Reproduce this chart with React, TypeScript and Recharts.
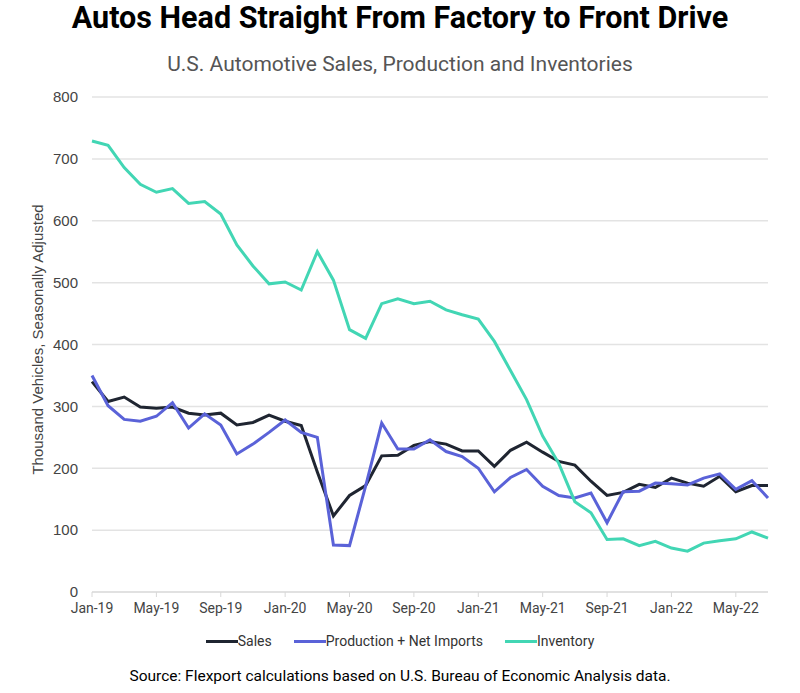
import { LineChart, Line, XAxis, YAxis, CartesianGrid } from "recharts";

// Monthly, Jan 2019 through Jul 2022
const months = [
  "Jan-19", "Feb-19", "Mar-19", "Apr-19", "May-19", "Jun-19", "Jul-19", "Aug-19", "Sep-19", "Oct-19", "Nov-19", "Dec-19",
  "Jan-20", "Feb-20", "Mar-20", "Apr-20", "May-20", "Jun-20", "Jul-20", "Aug-20", "Sep-20", "Oct-20", "Nov-20", "Dec-20",
  "Jan-21", "Feb-21", "Mar-21", "Apr-21", "May-21", "Jun-21", "Jul-21", "Aug-21", "Sep-21", "Oct-21", "Nov-21", "Dec-21",
  "Jan-22", "Feb-22", "Mar-22", "Apr-22", "May-22", "Jun-22", "Jul-22",
];

// thousand vehicles, seasonally adjusted
const sales = [
  340, 308, 315, 299, 297, 299, 289, 286, 289, 270, 274, 286,
  276, 269, 194, 123, 156, 172, 220, 221, 237, 243, 239, 228,
  228, 203, 229, 242, 226, 211, 205, 179, 156, 161, 174, 169,
  184, 176, 171, 187, 162, 172, 172,
];
const production = [
  350, 301, 279, 276, 284, 306, 265, 288, 270, 223, 239, 258,
  278, 258, 250, 76, 75, 171, 273, 231, 231, 246, 227, 219,
  200, 162, 185, 198, 171, 156, 152, 160, 112, 162, 163, 176,
  175, 173, 184, 191, 166, 180, 152,
];
const inventory = [
  729, 722, 686, 659, 646, 652, 628, 631, 611, 561, 527, 498,
  501, 488, 550, 504, 424, 410, 466, 474, 466, 470, 456, 448,
  441, 405, 358, 311, 252, 208, 146, 128, 85, 86, 75, 82,
  71, 66, 79, 83, 86, 97, 87,
];

const yTicks = [0, 100, 200, 300, 400, 500, 600, 700, 800];

const series = [
  { key: "sales", name: "Sales", color: "#1f2531" },
  { key: "production", name: "Production + Net Imports", color: "#5a62d8" },
  { key: "inventory", name: "Inventory", color: "#42d6b4" },
];

const data = months.map((m, i) => ({
  month: m,
  sales: sales[i],
  production: production[i],
  inventory: inventory[i],
}));

export default function App() {
  return (
    <div
      style={{
        position: "absolute",
        left: 0,
        top: 0,
        width: 800,
        height: 693,
        background: "#fff",
        fontFamily: "Roboto, sans-serif",
      }}
    >
      <div
        style={{
          position: "absolute",
          top: 0,
          width: 800,
          textAlign: "center",
          fontSize: 30.5,
          fontWeight: 700,
          color: "#000",
        }}
      >
        Autos Head Straight From Factory to Front Drive
      </div>
      <div
        style={{
          position: "absolute",
          top: 52,
          width: 800,
          textAlign: "center",
          fontSize: 21,
          color: "#555",
        }}
      >
        U.S. Automotive Sales, Production and Inventories
      </div>

      <div style={{ position: "absolute", left: 0, top: 0 }}>
        <LineChart
          width={800}
          height={625}
          data={data}
          margin={{ top: 97, right: 32, left: 0, bottom: 3 }}
        >
          <CartesianGrid vertical={false} stroke="#e3e3e3" strokeWidth={1.5} />
          <XAxis
            dataKey="month"
            interval={3}
            height={30}
            tickSize={5}
            tickMargin={6}
            stroke="#d8d8d8"
            tick={{ fill: "#444", fontSize: 14, fontFamily: "Roboto, sans-serif" }}
          />
          <YAxis
            width={92}
            domain={[0, 800]}
            ticks={yTicks}
            axisLine={false}
            tickLine={false}
            tickSize={6}
            tickMargin={8}
            tick={{ fill: "#444", fontSize: 15, fontFamily: "Liberation Sans, Arial, sans-serif" }}
            label={{
              value: "Thousand Vehicles, Seasonally Adjusted",
              angle: -90,
              position: "center",
              dx: -8,
              dy: -5,
              style: { fill: "#444", fontSize: 15, fontFamily: "Liberation Sans, Arial, sans-serif" },
            }}
          />
          {series.map((s) => (
            <Line
              key={s.key}
              type="linear"
              dataKey={s.key}
              name={s.name}
              stroke={s.color}
              strokeWidth={3}
              dot={false}
              isAnimationActive={false}
            />
          ))}
        </LineChart>
      </div>

      <div
        style={{
          position: "absolute",
          top: 633,
          width: 800,
          display: "flex",
          justifyContent: "center",
          gap: 22,
          fontSize: 14,
          color: "#333",
        }}
      >
        {series.map((s) => (
          <div key={s.key} style={{ display: "flex", alignItems: "center" }}>
            <span style={{ display: "inline-block", width: 32, height: 3, background: s.color }} />
            <span>{s.name}</span>
          </div>
        ))}
      </div>

      <div
        style={{
          position: "absolute",
          top: 667,
          width: 800,
          textAlign: "center",
          fontSize: 15.5,
          color: "#000",
        }}
      >
        Source: Flexport calculations based on U.S. Bureau of Economic Analysis data.
      </div>
    </div>
  );
}
